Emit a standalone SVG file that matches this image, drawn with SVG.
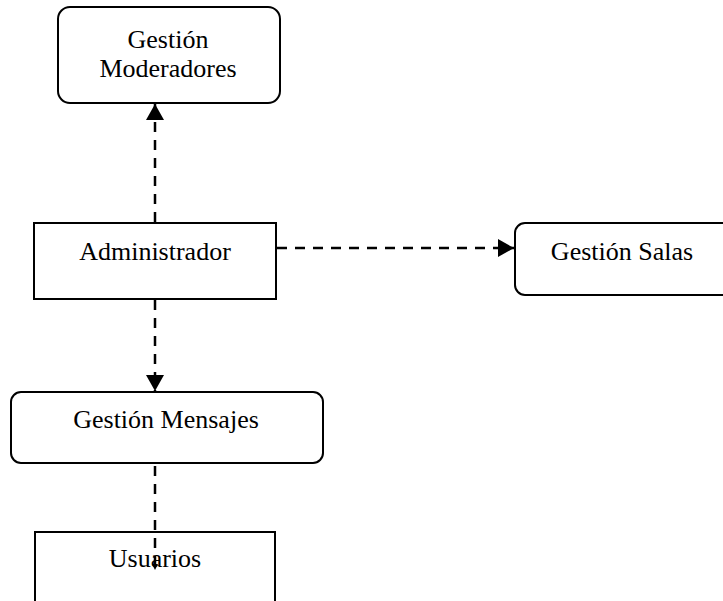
<svg xmlns="http://www.w3.org/2000/svg" width="723" height="601" viewBox="0 0 723 601">
  <style>
    .box { fill: #ffffff; stroke: #000000; stroke-width: 2; }
    .label { font-family: "Liberation Serif", "Times New Roman", serif; font-size: 26px; fill: #000000; text-anchor: middle; }
    .link { fill: none; stroke: #000000; stroke-width: 2.5; stroke-dasharray: 10 8; }
  </style>
  <defs>
    <marker id="arrow" viewBox="0 0 16 18" refX="16" refY="9" markerWidth="16" markerHeight="18" markerUnits="userSpaceOnUse" orient="auto">
      <path d="M0,0 L16,9 L0,18 Z" fill="#000000"/>
    </marker>
    <marker id="arrow-small" viewBox="0 0 6 6" refX="6" refY="3" markerWidth="6" markerHeight="6" markerUnits="userSpaceOnUse" orient="auto">
      <path d="M0,0 L6,3 L0,6 Z" fill="#000000"/>
    </marker>
  </defs>

  <g id="moderadores">
    <rect class="box" x="58" y="7" width="222" height="96" rx="12" ry="12"/>
    <text class="label" x="168" y="48">Gestión</text>
    <text class="label" x="168" y="77">Moderadores</text>
  </g>

  <g id="administrador">
    <rect class="box" x="34" y="223" width="242" height="76"/>
    <text class="label" x="155" y="260">Administrador</text>
  </g>

  <g id="salas">
    <rect class="box" x="515" y="223" width="220" height="72" rx="10" ry="10"/>
    <text class="label" x="622" y="260">Gestión Salas</text>
  </g>

  <g id="mensajes">
    <rect class="box" x="11" y="392" width="312" height="71" rx="10" ry="10"/>
    <text class="label" x="166" y="428">Gestión Mensajes</text>
  </g>

  <g id="usuarios">
    <rect class="box" x="35" y="532" width="240" height="90"/>
    <text class="label" x="155" y="567">Usuarios</text>
  </g>

  <g id="connectors">
    <line class="link" x1="155" y1="222" x2="155" y2="104" marker-end="url(#arrow)"/>
    <line class="link" x1="277" y1="248" x2="514" y2="248" marker-end="url(#arrow)"/>
    <line class="link" x1="155" y1="300" x2="155" y2="391" marker-end="url(#arrow)"/>
    <line class="link" x1="155" y1="466" x2="155" y2="570" marker-end="url(#arrow-small)"/>
  </g>
</svg>
